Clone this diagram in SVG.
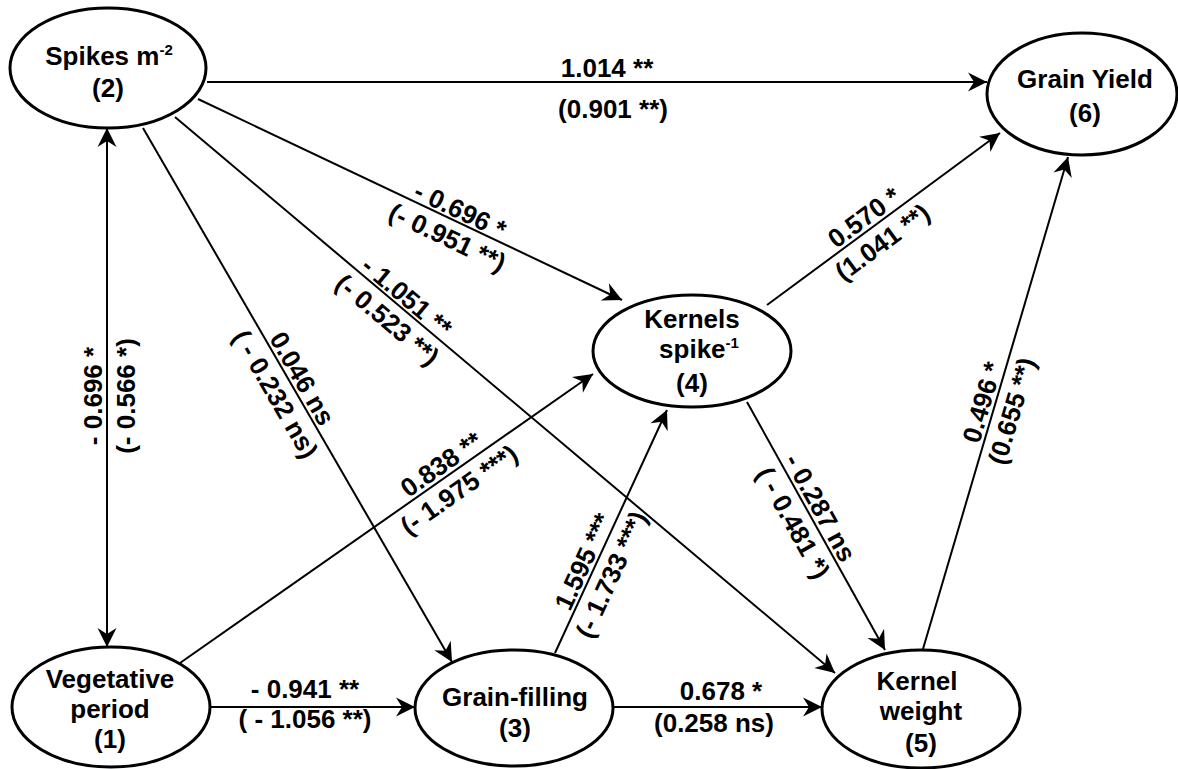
<svg xmlns="http://www.w3.org/2000/svg" width="1178" height="769" viewBox="0 0 1178 769">
<style>
text{font-family:"Liberation Sans",Arial,sans-serif;font-weight:bold;font-size:26px;fill:#000}
.node ellipse{fill:#fff;stroke:#000;stroke-width:3}
.node text{text-anchor:middle}
.lbl text{text-anchor:middle}
.edge{stroke:#000;stroke-width:2;fill:none}
.sup{font-size:15px}
</style>
<defs>
<marker id="ah" markerUnits="userSpaceOnUse" viewBox="-20 -10 22 20" refX="0" refY="0" markerWidth="22" markerHeight="20" orient="auto-start-reverse">
<path d="M0,0 L-19,-9.5 L-13,0 L-19,9.5 Z" fill="#000"/>
</marker>
</defs>
<rect width="1178" height="769" fill="#fff"/>
<g id="connectors">
<line class="edge" x1="207" y1="82" x2="987" y2="82" marker-end="url(#ah)"/>
<line class="edge" x1="107" y1="128" x2="107" y2="647" marker-start="url(#ah)" marker-end="url(#ah)"/>
<line class="edge" x1="143" y1="128" x2="452" y2="662" marker-end="url(#ah)"/>
<line class="edge" x1="198" y1="99" x2="622" y2="300" marker-end="url(#ah)"/>
<line class="edge" x1="175" y1="117" x2="835" y2="673" marker-end="url(#ah)"/>
<line class="edge" x1="180" y1="663" x2="593" y2="374" marker-end="url(#ah)"/>
<line class="edge" x1="555" y1="653" x2="667" y2="410" marker-end="url(#ah)"/>
<line class="edge" x1="747" y1="402" x2="885" y2="650" marker-end="url(#ah)"/>
<line class="edge" x1="767" y1="305" x2="1000" y2="133" marker-end="url(#ah)"/>
<line class="edge" x1="923" y1="649" x2="1068" y2="157" marker-end="url(#ah)"/>
<line class="edge" x1="210" y1="707" x2="415" y2="707" marker-end="url(#ah)"/>
<line class="edge" x1="613" y1="707" x2="822" y2="707" marker-end="url(#ah)"/>
</g>
<g id="labels" class="lbl">
<text x="607" y="77">1.014 **</text>
<text x="613" y="118">(0.901 **)</text>
<g transform="translate(107,396) rotate(-90)"><text y="-5">- 0.696 *</text><text y="28">(- 0.566 *)</text></g>
<g transform="translate(291,385) rotate(59.9)"><text y="-4">0.046 ns</text><text y="27">( - 0.232 ns)</text></g>
<g transform="translate(455,221) rotate(25.4)"><text y="-3">- 0.696 *</text><text y="27">(- 0.951 **)</text></g>
<g transform="translate(399,306) rotate(40.1)"><text y="-3">- 1.051 **</text><text y="27">(- 0.523 **)</text></g>
<g transform="translate(448.6,475) rotate(-35)"><text y="-4">0.838 **</text><text y="27">(- 1.975 ***)</text></g>
<g transform="translate(595,567) rotate(-65.3)"><text y="-4">1.595 ***</text><text y="27">(- 1.733 ***)</text></g>
<g transform="translate(809,514) rotate(60.9)"><text y="-4">- 0.287 ns</text><text y="27">( - 0.481 *)</text></g>
<g transform="translate(871.7,227.8) rotate(-36.4)"><text y="-4">0.570 *</text><text y="27">(1.041 **)</text></g>
<g transform="translate(994.6,406) rotate(-73.6)"><text y="-4">0.496 *</text><text y="27">(0.655 **)</text></g>
<text x="305" y="698">- 0.941 **</text>
<text x="305" y="728">( - 1.056 **)</text>
<text x="721" y="700">0.678 *</text>
<text x="714" y="732">(0.258 ns)</text>
</g>
<g id="n2" class="node"><ellipse cx="108" cy="68" rx="98" ry="60"/><text x="109" y="65">Spikes m<tspan class="sup" dy="-10">-2</tspan></text><text x="108" y="97">(2)</text></g>
<g id="n6" class="node"><ellipse cx="1082" cy="94" rx="95" ry="61"/><text x="1085" y="88">Grain Yield</text><text x="1085" y="122">(6)</text></g>
<g id="n4" class="node"><ellipse cx="692" cy="351" rx="99" ry="56"/><text x="692" y="328">Kernels</text><text x="699" y="358">spike<tspan class="sup" dy="-10">-1</tspan></text><text x="692" y="392">(4)</text></g>
<g id="n1" class="node"><ellipse cx="111" cy="707" rx="99" ry="60"/><text x="110" y="688">Vegetative</text><text x="110" y="718">period</text><text x="110" y="748">(1)</text></g>
<g id="n3" class="node"><ellipse cx="514" cy="708" rx="99" ry="58"/><text x="515" y="706">Grain-filling</text><text x="515" y="737">(3)</text></g>
<g id="n5" class="node"><ellipse cx="921" cy="709" rx="99" ry="59"/><text x="917" y="690">Kernel</text><text x="921" y="720">weight</text><text x="921" y="752">(5)</text></g>
</svg>
